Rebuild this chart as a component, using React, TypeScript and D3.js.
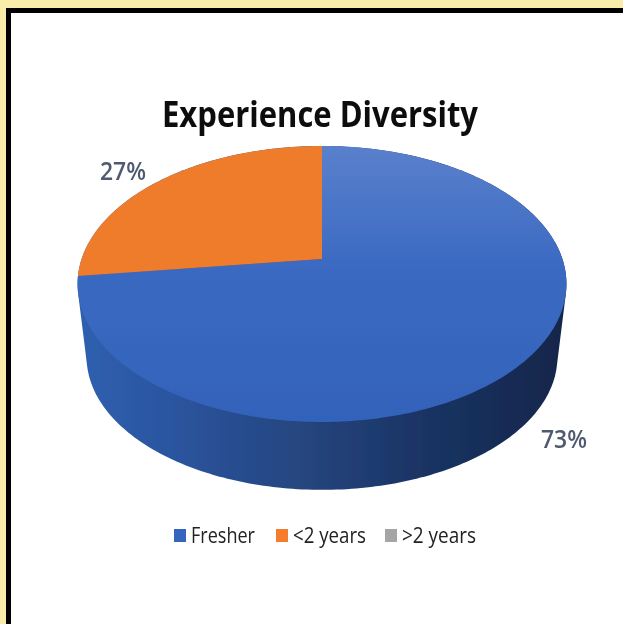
import React from "react";
import * as d3 from "d3";

const title = "Experience Diversity";
const categories = ["Fresher", "<2 years", ">2 years"];
const shares = [73, 27, 0];
const colors = ["url(#topBlue)", "#ef7b2c", "#a5a5a5"];
const legendColors = ["#3565bd", "#f47c2a", "#a5a5a5"];
const labelText = ["73%", "27%"];

const W = 623;
const H = 624;

// Perspective projection of the unit disc to the screen
const persp = -0.181;
function project(theta: number, r: number, cx: number, cy: number, a: number, ax: number): [number, number] {
  const u = r * Math.sin(theta);
  const v = -r * Math.cos(theta);
  const d = 1 + persp * v;
  return [cx + (ax * u) / d, (cy + a * v) / d];
}
const topDisc = (t: number, r = 1) => project(t, r, 322, 259, 86.6, 240.4);
const botDisc = (t: number, r = 1) => {
  const [x, y] = topDisc(t, r);
  return [322 + (x - 322) * 0.963, 284 + (y - 284) * 0.963 + 73] as [number, number];
};

export default function App() {
  const pie = d3.pie<number>().sort(null)(shares);
  const line = d3.line();
  const sliceD = (s: d3.PieArcDatum<number>) => {
    const n = Math.max(2, Math.ceil((s.endAngle - s.startAngle) * 60));
    const pts = d3.range(n + 1).map((i) => topDisc(s.startAngle + ((s.endAngle - s.startAngle) * i) / n));
    return line([topDisc(0, 0), ...pts])! + "Z";
  };
  const ring = d3.range(360).map((i) => (i * Math.PI) / 180);
  const hull = d3.polygonHull([...ring.map((t) => topDisc(t)), ...ring.map((t) => botDisc(t))])!;
  const legendX = d3.scaleOrdinal<string, number>().domain(categories).range([174, 276, 385]);

  return (
    <svg
      width={W}
      height={H}
      viewBox={`0 0 ${W} ${H}`}
      style={{ position: "fixed", left: 0, top: 0, display: "block" }}
    >
      <defs>
        <linearGradient id="side" gradientUnits="userSpaceOnUse" x1={78} x2={567} y1={0} y2={0}>
          <stop offset="0" stopColor="#2f60b0" />
          <stop offset="0.2" stopColor="#2a549e" />
          <stop offset="0.45" stopColor="#264680" />
          <stop offset="0.7" stopColor="#1a3464" />
          <stop offset="1" stopColor="#13264a" />
        </linearGradient>
        <linearGradient id="topBlue" gradientUnits="userSpaceOnUse" x1={0} x2={0} y1={146} y2={422}>
          <stop offset="0" stopColor="#5a80cc" />
          <stop offset="0.45" stopColor="#3a69c1" />
          <stop offset="1" stopColor="#3363bb" />
        </linearGradient>
        <filter id="soft" x="-5%" y="-5%" width="110%" height="110%">
          <feGaussianBlur stdDeviation="0.45" />
        </filter>
      </defs>
      <rect width={W} height={H} fill="#f8eda9" />
      <rect x={8.5} y={10.5} width={640} height={640} fill="#fff" stroke="#000" strokeWidth={5} />
      <g filter="url(#soft)">
        <text
          x={320}
          y={127}
          textAnchor="middle"
          fontFamily="'Open Sans', sans-serif"
          fontWeight={700}
          fontSize={36}
          textLength={316}
          lengthAdjust="spacingAndGlyphs"
          fill="#0a0a0a"
        >
          {title}
        </text>
        <path d={line(hull)! + "Z"} fill="url(#side)" />
        {pie.filter((s) => s.value > 0).map((s, i) => (
          <path key={i} d={sliceD(s)} fill={colors[i]} />
        ))}
        <text x={123} y={180} textAnchor="middle" fontFamily="'Open Sans', sans-serif" fontWeight={600} fontSize={25} textLength={46} lengthAdjust="spacingAndGlyphs" fill="#505a70">
          {labelText[1]}
        </text>
        <text x={564} y={448} textAnchor="middle" fontFamily="'Open Sans', sans-serif" fontWeight={600} fontSize={25} textLength={46} lengthAdjust="spacingAndGlyphs" fill="#505a70">
          {labelText[0]}
        </text>
        {categories.map((c, i) => (
          <g key={c} transform={`translate(${legendX(c)},535)`}>
            <rect x={0} y={-6} width={12} height={13} fill={legendColors[i]} />
            <text x={17} y={8} fontFamily="'Open Sans', sans-serif" fontSize={22} textLength={[64, 73, 74][i]} lengthAdjust="spacingAndGlyphs" fill="#222">
              {c}
            </text>
          </g>
        ))}
      </g>
    </svg>
  );
}
